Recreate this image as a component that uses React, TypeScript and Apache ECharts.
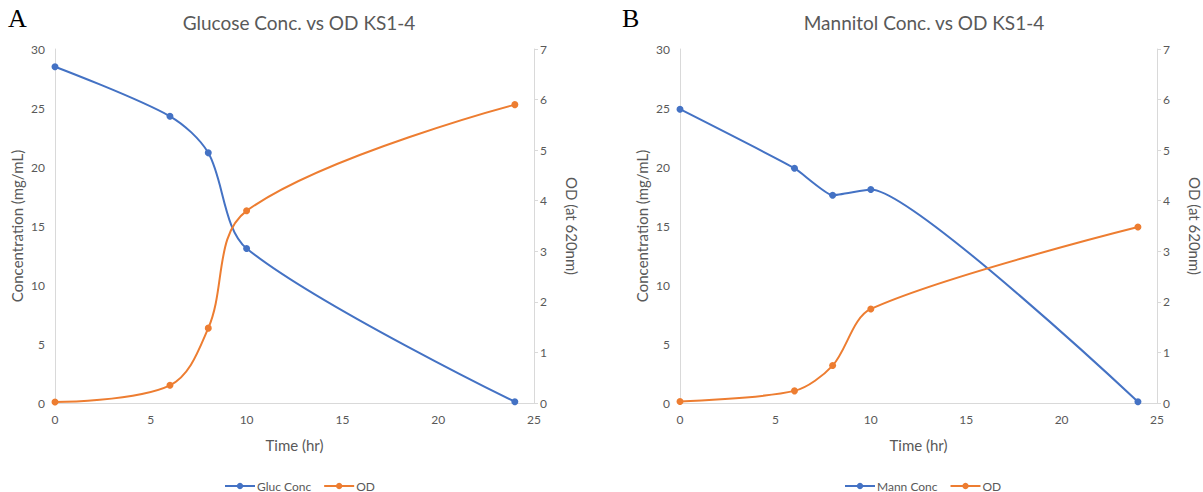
import React, { useEffect, useRef } from "react";
import * as echarts from "echarts";

const timeHours = [0, 6, 8, 10, 24];
const glucoseConc = [28.5, 24.3, 21.2, 13.1, 0.1];
const glucoseOD = [0.02, 0.35, 1.48, 3.8, 5.9];
const mannitolConc = [24.9, 19.9, 17.6, 18.1, 0.1];
const mannitolOD = [0.03, 0.24, 0.74, 1.86, 3.48];

const leftTicks = [0, 5, 10, 15, 20, 25, 30];
const rightTicks = [0, 1, 2, 3, 4, 5, 6, 7];

const BLUE = "#4472C4";
const ORANGE = "#ED7D31";
const GRAY_TEXT = "#595959";
const AXIS_LINE = "#D9D9D9";
const FONT = "Lato, 'Open Sans', sans-serif";

const pairs = (xs: number[], ys: number[]) => xs.map((x, i) => [x, ys[i]]);

function buildAxes(gridIndex: number) {
  const xAxis = {
    type: "value",
    gridIndex,
    min: 0,
    max: 25,
    interval: 5,
    name: "Time (hr)",
    nameLocation: "middle",
    nameGap: 34,
    nameTextStyle: { color: GRAY_TEXT, fontSize: 15, fontFamily: FONT },
    axisLine: { show: true, lineStyle: { color: AXIS_LINE, width: 1 } },
    axisTick: { show: false },
    splitLine: { show: false },
    axisLabel: { color: GRAY_TEXT, fontSize: 12, fontFamily: FONT, margin: 10 },
  };
  const yLeft = {
    type: "value",
    gridIndex,
    position: "left",
    min: leftTicks[0],
    max: leftTicks[leftTicks.length - 1],
    interval: 5,
    name: "Concentration (mg/mL)",
    nameLocation: "middle",
    nameGap: 31,
    nameTextStyle: { color: GRAY_TEXT, fontSize: 15, fontFamily: FONT },
    axisLine: { show: true, lineStyle: { color: AXIS_LINE, width: 1 } },
    axisTick: { show: false },
    splitLine: { show: false },
    axisLabel: { color: GRAY_TEXT, fontSize: 12, fontFamily: FONT, margin: 10 },
  };
  const yRight = {
    type: "value",
    gridIndex,
    position: "right",
    min: rightTicks[0],
    max: rightTicks[rightTicks.length - 1],
    interval: 1,
    name: "OD (at 620nm)",
    nameLocation: "middle",
    nameRotate: -90,
    nameGap: 30,
    nameTextStyle: { color: GRAY_TEXT, fontSize: 15, fontFamily: FONT },
    axisLine: { show: true, lineStyle: { color: AXIS_LINE, width: 1 } },
    axisTick: { show: true, length: 4, lineStyle: { color: AXIS_LINE } },
    splitLine: { show: false },
    axisLabel: { color: GRAY_TEXT, fontSize: 12, fontFamily: FONT, margin: 6 },
  };
  return { xAxis, yLeft, yRight };
}

function lineSeries(
  name: string,
  data: number[][],
  color: string,
  xAxisIndex: number,
  yAxisIndex: number,
  smooth: number
) {
  return {
    type: "line",
    name,
    data,
    xAxisIndex,
    yAxisIndex,
    smooth,
    symbol: "circle",
    symbolSize: 7,
    showSymbol: true,
    lineStyle: { color, width: 2 },
    itemStyle: { color },
    z: color === BLUE ? 3 : 4,
  };
}

const legendBase = {
  orient: "horizontal",
  top: 475,
  itemWidth: 30,
  itemHeight: 8,
  itemGap: 12,
  textStyle: { color: GRAY_TEXT, fontSize: 12, fontFamily: FONT, padding: [0, 0, 0, -3] },
  selectedMode: false,
};

export default function App() {
  const ref = useRef<HTMLDivElement>(null);

  useEffect(() => {
    if (!ref.current) return;
    const chart = echarts.init(ref.current, null, { renderer: "svg" });
    const a = buildAxes(0);
    const b = buildAxes(1);
    chart.setOption({
      animation: false,
      backgroundColor: "#ffffff",
      title: [
        {
          text: "Glucose Conc. vs OD KS1-4",
          left: 294,
          top: 8,
          textAlign: "center",
          textStyle: { color: GRAY_TEXT, fontSize: 19, fontWeight: "normal", fontFamily: FONT },
        },
        {
          text: "Mannitol Conc. vs OD KS1-4",
          left: 919,
          top: 8,
          textAlign: "center",
          textStyle: { color: GRAY_TEXT, fontSize: 19, fontWeight: "normal", fontFamily: FONT },
        },
      ],
      graphic: [
        {
          type: "text",
          left: 8,
          top: 5,
          style: { text: "A", fill: "#000", font: "26px 'Liberation Serif', 'DejaVu Serif', serif" },
        },
        {
          type: "text",
          left: 622,
          top: 5,
          style: { text: "B", fill: "#000", font: "26px 'Liberation Serif', 'DejaVu Serif', serif" },
        },
      ],
      legend: [
        { ...legendBase, data: ["Gluc Conc", "OD"], left: 219 },
        { ...legendBase, data: ["Mann Conc", "OD"], left: 839 },
      ],
      grid: [
        { left: 55, right: 669, top: 49, bottom: 89, containLabel: false },
        { left: 680, right: 44, top: 49, bottom: 89, containLabel: false },
      ],
      xAxis: [a.xAxis, b.xAxis],
      yAxis: [a.yLeft, a.yRight, b.yLeft, b.yRight],
      series: [
        lineSeries("Gluc Conc", pairs(timeHours, glucoseConc), BLUE, 0, 0, 0.3),
        lineSeries("OD", pairs(timeHours, glucoseOD), ORANGE, 0, 1, 0.35),
        lineSeries("Mann Conc", pairs(timeHours, mannitolConc), BLUE, 1, 2, 0.15),
        lineSeries("OD", pairs(timeHours, mannitolOD), ORANGE, 1, 3, 0.3),
      ],
    });
    return () => chart.dispose();
  }, []);

  return (
    <div
      ref={ref}
      style={{ position: "absolute", left: 0, top: 0, width: 1203, height: 492, background: "#fff" }}
    />
  );
}
